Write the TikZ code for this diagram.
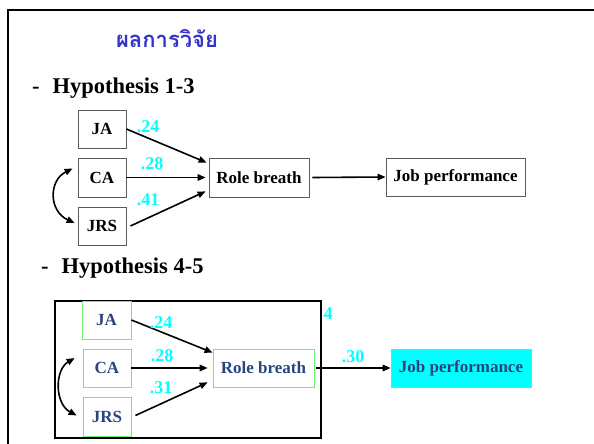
\documentclass[tikz,border=0pt]{standalone}
\usepackage{fontspec}
\setmainfont{Liberation Serif}
\newfontfamily\thaifont[Script=Thai]{Loma}
\usetikzlibrary{arrows.meta,calc}
\definecolor{titleblue}{RGB}{51,51,204}
\definecolor{darkblue}{RGB}{40,70,125}
\definecolor{lgreen}{RGB}{110,240,110}
\definecolor{boxgray}{RGB}{90,90,90}
\definecolor{cyanc}{RGB}{0,255,255}
\tikzset{
  box/.style={draw=boxgray, line width=0.8pt, inner sep=0pt, minimum height=38pt,
    font=\fontsize{17}{17}\selectfont\bfseries, text=black},
  gbox/.style={draw=lgreen, line width=0.8pt, inner sep=0pt, minimum height=38pt,
    font=\fontsize{17}{17}\selectfont\bfseries, text=darkblue},
  coef/.style={text=cyanc, font=\fontsize{18}{18}\selectfont\bfseries, inner sep=0pt},
  arr/.style={line width=1.6pt, -{Triangle[length=8pt,width=6.5pt]}},
  darr/.style={line width=1.6pt, {Triangle[length=8pt,width=6.5pt]}-{Triangle[length=8pt,width=6.5pt]}},
  heading/.style={font=\fontsize{22.5}{22.5}\selectfont\bfseries, inner sep=0pt, anchor=west}
}
\begin{document}
\begin{tikzpicture}[x=1pt,y=-1pt]
\useasboundingbox (0,0) rectangle (594,444);
\fill[white] (0,0) rectangle (594,444);
% outer frame
\draw[line width=2.5pt] (594,10) -- (8,10) -- (8,444);
% title
\node[text=titleblue, font=\thaifont\fontsize{22}{22}\selectfont\bfseries, inner sep=0pt] (title) at (167,39) {ผลการวิจัย};
% headings
\node[heading] (h1) at (32,88) {-\hspace{13pt}Hypothesis 1-3};
\node[heading] (h2) at (41,268) {-\hspace{13pt}Hypothesis 4-5};

% diagram 1
\node[box, minimum width=48pt] (ja) at (102,129) {JA};
\node[box, minimum width=48pt, minimum height=39pt] (ca) at (102,177.5) {CA};
\node[box, minimum width=48pt] (jrs) at (102,226) {JRS};
\node[box, minimum width=100pt, minimum height=39pt] (rb) at (259,177.5) {Role breath};
\node[box, minimum width=139pt] (jp) at (455.5,177) {Job performance};
\draw[arr] (ja.east) -- ($(rb.north west)+(-2,5)$);
\draw[arr] (ca.east) -- ($(rb.west)+(-3,0)$);
\draw[arr] ($(jrs.east)+(4,0)$) -- ($(rb.south west)+(-3,-6)$);
\draw[arr] ($(rb.east)+(3,0)$) -- (jp.west);
\coordinate (c1a) at ($(ca.west)+(-5,-9)$);
\coordinate (c1b) at ($(jrs.west)+(-3,-3)$);
\draw[darr] (c1a) .. controls +(-24,12) and +(-26,-12) .. (c1b);
\node[coef] (l1) at (148,127) {.24};
\node[coef] (l2) at (152,164) {.28};
\node[coef] (l3) at (148,200) {.41};

% diagram 2
\draw[line width=2pt] (55,301) rectangle (321,438);
\node[gbox, minimum width=49pt] (ja2) at (106.5,320) {JA};
\node[gbox, minimum width=48pt] (ca2) at (107,368) {CA};
\node[gbox, minimum width=48pt, minimum height=39pt] (jrs2) at (107,416.5) {JRS};
\node[gbox, minimum width=101pt] (rb2) at (263.5,368) {Role breath};
\node[gbox, minimum width=140pt, fill=cyanc] (jp2) at (461,368) {Job performance};
\draw[arr] (ja2.east) -- ($(rb2.north west)+(0,4)$);
\draw[arr] (ca2.east) -- ($(rb2.west)+(-5,0)$);
\draw[arr] ($(jrs2.east)+(4,-1)$) -- ($(rb2.south west)+(-5,-5)$);
\draw[arr] ($(rb2.east)+(2,0)$) -- (jp2.west);
\coordinate (c2a) at ($(ca2.west)+(-8,-10)$);
\coordinate (c2b) at ($(jrs2.west)+(-6,-1)$);
\draw[darr] (c2a) .. controls +(-20,12) and +(-22,-12) .. (c2b);
\node[coef] (m1) at (161,323) {.24};
\node[coef] (m2) at (162,356) {.28};
\node[coef] (m3) at (161,388) {.31};
\node[coef] (m4) at (328,314) {4};
\node[coef] (m5) at (353,357) {.30};
\end{tikzpicture}
\end{document}
